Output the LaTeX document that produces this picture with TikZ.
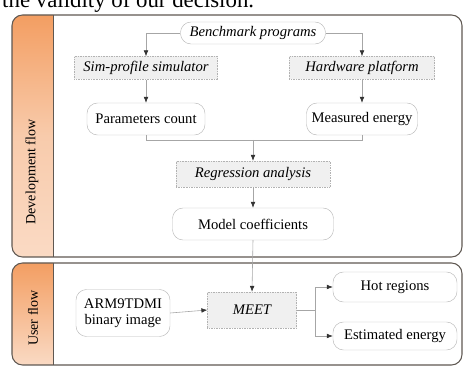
\documentclass[tikz,border=0pt]{standalone}
\usepackage{fontspec}
\setmainfont{Liberation Serif}
\usetikzlibrary{arrows.meta}
\definecolor{stripdark}{RGB}{243,158,98}
\definecolor{striplight}{RGB}{250,218,196}
\definecolor{panelline}{RGB}{95,88,82}
\newcommand{\boxfont}{\fontsize{12.5}{14}\selectfont}
\tikzset{
  roundbox/.style={draw=gray!55, fill=white, rounded corners=9pt, align=center, inner sep=2pt},
  stepbox/.style={draw=gray!60, densely dotted, fill=gray!12, font=\boxfont\itshape, inner sep=2pt},
  link/.style={draw=gray!70, line width=0.5pt},
  arrowlink/.style={link, -{Latex[length=5pt,width=4pt,color=black!80]}},
  panel/.style={draw=panelline, line width=0.9pt, rounded corners=9pt}
}
\begin{document}
\begin{tikzpicture}[x=0.03cm, y=-0.03cm, font=\boxfont]
		%%%%% START %%%%%
		\useasboundingbox (0,0) rectangle (464,366);
		
		% text cut at the top
		\node[anchor=base west, inner sep=0pt, font=\fontsize{19.5}{20}\selectfont] (caption) at (2,8) {the validity of our decision.};
		
		% panels with the coloured strips
		\begin{scope}
			\clip[rounded corners=9pt] (12,15) rectangle (462,257);
			\shade[top color=stripdark, bottom color=striplight, middle color=striplight!75!stripdark] (12,15) rectangle (53,257);
		\end{scope}
		\begin{scope}
			\clip[rounded corners=9pt] (12,263) rectangle (462,365);
			\shade[top color=stripdark, bottom color=striplight] (12,263) rectangle (53,365);
		\end{scope}
		\draw[panel] (12,15) rectangle (462,257);
		\draw[panel] (12,263) rectangle (462,365);
		\draw[panelline, line width=0.7pt] (53,15) -- (53,257);
		\draw[panelline, line width=0.7pt] (53,263) -- (53,365);
		
		\node[rotate=90, font=\fontsize{12}{14}\selectfont] (devlabel) at (32,172) {Development flow};
		\node[rotate=90, font=\fontsize{12}{14}\selectfont] (userlabel) at (33,318) {User flow};
		
		% development flow
		\node[roundbox, font=\boxfont\itshape, minimum width=4.35cm, minimum height=0.66cm] (bench) at (253,33) {Benchmark programs};
		\node[stepbox, minimum width=4.29cm, minimum height=0.69cm] (sim) at (146,68) {Sim-profile simulator};
		\node[stepbox, minimum width=4.35cm, minimum height=0.69cm] (hw) at (362,68) {Hardware platform};
		\node[roundbox, minimum width=3.54cm, minimum height=0.96cm] (param) at (146,119) {Parameters count};
		\node[roundbox, minimum width=3.33cm, minimum height=0.96cm] (meas) at (362,119) {Measured energy};
		\coordinate (join) at (253,140);
		\node[stepbox, minimum width=4.62cm, minimum height=0.78cm] (regr) at (253,174) {Regression analysis};
		\node[roundbox, minimum width=4.83cm, minimum height=0.96cm] (coef) at (253,224) {Model coefficients};
		
		\draw[arrowlink] (bench.west) -| (sim.north);
		\draw[arrowlink] (bench.east) -| (hw.north);
		\draw[arrowlink] (sim.south) -- (param.north);
		\draw[arrowlink] (hw.south) -- (meas.north);
		\draw[link] (param.south) |- (join);
		\draw[link] (meas.south) |- (join);
		\draw[arrowlink] (join) -- (regr.north);
		\draw[arrowlink] (regr.south) -- (coef.north);
		
		% user flow
		\node[roundbox, minimum width=2.82cm, minimum height=1.41cm] (binary) at (123,313) {ARM9TDMI\\binary image};
		\node[stepbox, minimum width=2.67cm, minimum height=1.08cm] (meet) at (252,310) {MEET};
		\node[roundbox, minimum width=3.72cm, minimum height=0.9cm] (hot) at (395,287) {Hot regions};
		\node[roundbox, minimum width=3.72cm, minimum height=0.84cm] (estim) at (395,336) {Estimated energy};
		\coordinate (split) at (315,310);
		
		\draw[arrowlink] (coef.south) -- (meet.north);
		\draw[arrowlink] (binary.east) -- (meet.west);
		\draw[link] (meet.east) -- (split);
		\draw[arrowlink] (split) |- (hot.west);
		\draw[arrowlink] (split) |- (estim.west);
		%%%%% END %%%%%
	\end{tikzpicture}
\end{document}
